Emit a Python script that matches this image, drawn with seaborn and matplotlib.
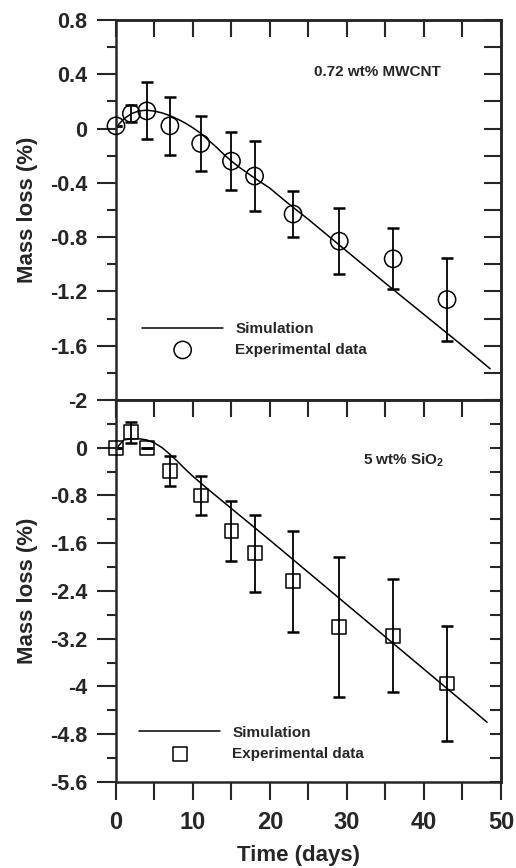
import numpy as np
import pandas as pd
import seaborn as sns
import matplotlib.pyplot as plt
from matplotlib.ticker import FixedLocator, FuncFormatter

# 0.72 wt% MWCNT (top panel)
cnt_days = [0, 2, 4, 7, 11, 15, 18, 23, 29, 36, 43]
cnt_loss = [0.02, 0.11, 0.13, 0.02, -0.11, -0.24, -0.35, -0.63, -0.83, -0.96, -1.26]
cnt_err = [0, 0.06, 0.21, 0.215, 0.2, 0.215, 0.26, 0.17, 0.245, 0.225, 0.305]
cnt_sim_days = [0, 1, 2, 3, 4, 5, 6, 7, 8, 9, 10, 11, 12, 13, 14, 15, 16, 17, 18,
                20, 22, 25, 30, 35, 40, 45, 48.6]
cnt_sim_loss = [0.01, 0.07, 0.11, 0.13, 0.135, 0.128, 0.115, 0.095, 0.07, 0.04, 0.005,
                -0.035, -0.085, -0.135, -0.19, -0.24, -0.285, -0.325, -0.365,
                -0.44, -0.535, -0.67, -0.905, -1.14, -1.37, -1.60, -1.77]

# 5 wt% SiO2 (bottom panel)
sio_days = [0, 2, 4, 7, 11, 15, 18, 23, 29, 36, 43]
sio_loss = [0.0, 0.26, 0.0, -0.39, -0.80, -1.40, -1.77, -2.24, -3.0, -3.15, -3.95]
sio_err = [0, 0.175, 0, 0.25, 0.33, 0.5, 0.645, 0.84, 1.175, 0.945, 0.965]
sio_sim_days = [0, 1, 2, 3, 4, 5, 6, 7, 8, 9, 10, 12, 15, 20, 25, 30, 35, 40, 45, 48.2]
sio_sim_loss = [-0.02, 0.13, 0.15, 0.15, 0.13, 0.08, 0.0, -0.11, -0.23, -0.36, -0.48,
                -0.70, -1.02, -1.55, -2.09, -2.63, -3.17, -3.71, -4.25, -4.60]

# ticks
x_ticks = [0, 10, 20, 30, 40, 50]
x_minor = [5, 15, 25, 35, 45]
top_yticks = [0.8, 0.4, 0, -0.4, -0.8, -1.2, -1.6, -2]
top_yminor = [0.6, 0.2, -0.2, -0.6, -1.0, -1.4, -1.8]
top_right = [0.8, 0.6, 0.4, 0.2, 0, -0.2, -0.4, -0.6, -0.8, -1.0, -1.2, -1.4, -1.6, -1.8, -2]
bot_yticks = [0, -0.8, -1.6, -2.4, -3.2, -4, -4.8, -5.6]
bot_yminor = [0.4, -0.4, -1.2, -2.0, -2.8, -3.6, -4.4, -5.2]
bot_right = [0.8, 0.4, 0, -0.4, -0.8, -1.2, -1.6, -2.0, -2.4, -2.8, -3.2, -3.6, -4.0,
             -4.4, -4.8, -5.2, -5.6]

sns.set_style('ticks')
plt.rcParams['font.family'] = ['Liberation Sans', 'DejaVu Sans']
plt.rcParams['font.weight'] = 'bold'
plt.rcParams['axes.labelweight'] = 'bold'
plt.rcParams['axes.unicode_minus'] = False
plt.rcParams['mathtext.fontset'] = 'custom'
plt.rcParams['mathtext.rm'] = 'Liberation Sans:bold'
plt.rcParams['mathtext.bf'] = 'Liberation Sans:bold'

fig = plt.figure(figsize=(5.16, 8.68), dpi=100)
ax1 = fig.add_axes([0.2248, 0.5392, 0.746, 0.4378])
ax2 = fig.add_axes([0.2248, 0.0991, 0.746, 0.4401])

fmt = FuncFormatter(lambda v, p: '%g' % round(v, 3))


def panel(ax, days, loss, err, sim_days, sim_loss, marker, msize, ylim,
          yticks, yminor, yright, rlen, note, note_xy, leg_xy):
    sim = pd.DataFrame({'day': sim_days, 'loss': sim_loss})
    exp = pd.DataFrame({'day': days, 'loss': loss})
    sns.lineplot(data=sim, x='day', y='loss', ax=ax, color='black', lw=1.1,
                 sort=False, label='Simulation')
    ax.errorbar(days, loss, yerr=err, fmt='none', ecolor='black', elinewidth=1.3,
                capsize=4.5, capthick=1.8, zorder=2)
    sns.scatterplot(data=exp, x='day', y='loss', ax=ax, marker=marker, s=msize,
                    facecolors='none', edgecolor='black', linewidth=1.1,
                    label='Experimental data', zorder=3, clip_on=False)

    ax.set_xlim(0, 50)
    ax.set_ylim(*ylim)
    ax.xaxis.set_major_locator(FixedLocator(x_ticks))
    ax.xaxis.set_minor_locator(FixedLocator(x_minor))
    ax.yaxis.set_major_locator(FixedLocator(yticks))
    ax.yaxis.set_minor_locator(FixedLocator(yminor))
    ax.yaxis.set_major_formatter(fmt)
    ax.tick_params(axis='x', which='both', direction='out', length=13, width=1.5,
                   top=False, pad=8, labelsize=17)
    ax.tick_params(axis='y', which='major', direction='out', length=13.7, width=1.5,
                   right=False, pad=7, labelsize=15.5)
    ax.tick_params(axis='y', which='minor', direction='out', length=6.7, width=1.5,
                   right=False)
    for s in ax.spines.values():
        s.set_linewidth(1.8)

    rax = ax.secondary_yaxis('right')
    rax.set_yticks(yright)
    rax.tick_params(direction='in', length=rlen, width=1.5, labelright=False)
    rax.spines['right'].set_linewidth(1.8)
    tax = ax.secondary_xaxis('top')
    tax.set_xticks(sorted(x_ticks + x_minor))
    tax.tick_params(direction='in', length=12.5, width=1.5, labeltop=False)
    tax.spines['top'].set_linewidth(1.8)

    ax.text(note_xy[0], note_xy[1], note, transform=ax.transAxes, fontsize=11,
            fontweight='bold', ha='center', va='center')
    ax.legend(loc='upper left', bbox_to_anchor=leg_xy, frameon=False,
              prop={'size': 11, 'weight': 'bold'}, handlelength=5.3,
              handletextpad=0.8, labelspacing=0.45, borderpad=0, borderaxespad=0,
              scatterpoints=1)
    ax.set_ylabel('Mass loss (%)', fontsize=16, fontweight='bold')
    ax.yaxis.set_label_coords(-0.2026, 0.5)


panel(ax1, cnt_days, cnt_loss, cnt_err, cnt_sim_days, cnt_sim_loss, 'o', 155,
      (-2, 0.8), top_yticks, top_yminor, top_right, 12.2,
      '0.72 wt% MWCNT', (0.68, 0.863), (0.068, 0.205))
panel(ax2, sio_days, sio_loss, sio_err, sio_sim_days, sio_sim_loss, 's', 100,
      (-5.6, 0.8), bot_yticks, bot_yminor, bot_right, 8,
      '5 wt% SiO$_\\mathbf{2}$', (0.748, 0.843), (0.06, 0.147))

ax1.tick_params(axis='x', labelbottom=False)
ax1.set_xlabel('')
ax2.set_xlabel('Time (days)', fontsize=16, fontweight='bold')
ax2.xaxis.set_label_coords(0.473, -0.165)

fig.savefig('out.png', dpi=100)
